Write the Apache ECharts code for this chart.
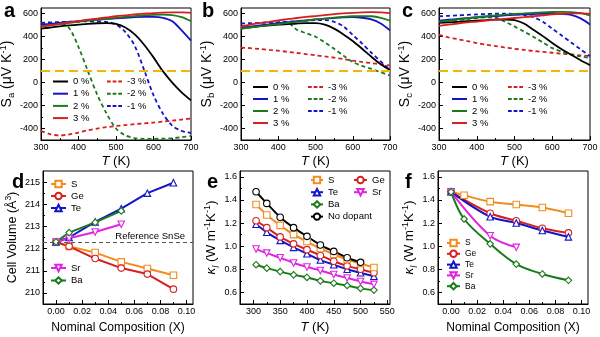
<!DOCTYPE html>
<html><head><meta charset="utf-8">
<script src="https://cdn.jsdelivr.net/npm/echarts@6/dist/echarts.min.js"></script>
<style>html,body{margin:0;padding:0;background:#fff}#c{width:600px;height:337px}</style>
</head><body><div id="c"></div>
<script>
// ---------- data ----------
const T_TOP = [300,325,350,375,400,425,450,475,500,525,550,575,600,625,650,675,700];
// panel a : S_a
const SA_P0 = [470,480,490,498,505,512,517,519,512,480,420,330,220,100,0,-85,-155];
const SA_P1 = [505,512,520,528,535,542,548,555,560,565,570,572,572,565,535,455,365];
const SA_P2 = [490,500,510,520,530,540,548,556,564,572,580,586,590,592,588,570,535];
const SA_P3 = [488,500,512,524,536,548,558,568,578,586,594,600,606,610,612,612,608];
const SA_M3 = [-420,-450,-460,-452,-435,-415,-400,-388,-378,-370,-362,-355,-348,-340,-332,-322,-312];
const SA_M2 = [510,518,520,475,310,100,-105,-270,-400,-460,-483,-490,-490,-488,-484,-476,-465];
const SA_M1 = [520,525,528,530,532,533,533,530,505,440,320,110,-110,-270,-375,-420,-440];
// panel b : S_b
const SB_P0 = [478,485,492,498,505,510,515,518,518,505,470,420,362,295,225,160,110];
const SB_P1 = [478,488,498,508,518,526,535,542,550,557,563,568,570,565,550,515,455];
const SB_P2 = [470,480,490,500,510,520,530,540,550,558,566,573,578,580,578,565,540];
const SB_P3 = [490,505,518,530,542,553,563,572,580,588,596,603,608,612,614,612,605];
const SB_M3 = [305,300,293,285,278,268,258,248,238,228,218,205,192,180,170,160,150];
const SB_M2 = [470,482,494,505,515,520,460,430,400,350,295,235,180,145,120,90,62];
const SB_M1 = [515,518,520,523,526,530,535,540,545,545,530,490,415,340,260,185,110];
// panel c : S_c
const SC_P0 = [520,525,530,535,540,545,548,550,545,515,460,405,345,290,243,195,152];
const SC_P1 = [540,548,555,562,568,574,580,585,590,594,597,600,600,598,590,560,505];
const SC_P2 = [530,540,550,560,570,578,585,592,598,603,608,612,615,616,614,605,585];
const SC_P3 = [495,505,515,525,532,540,548,555,563,570,578,586,594,600,604,604,600];
const SC_M3 = [415,395,378,362,345,330,318,305,295,285,275,268,260,252,245,238,232];
const SC_M2 = [530,538,546,554,562,568,565,530,490,445,400,350,300,270,245,228,215];
const SC_M1 = [578,582,586,590,594,597,600,600,598,590,570,530,470,410,350,290,230];
const S_THRESHOLD = 100;
// panel d : cell volume
const D_X = [0,0.01,0.03,0.05,0.07,0.09];
const D_S  = [212.3,212.1,211.82,211.4,211.1,210.8];
const D_GE = [212.3,212.1,211.55,211.12,210.85,210.17];
const D_TE = [212.3,212.5,213.2,213.8,214.5,214.97];
const D_X2 = [0,0.01,0.03,0.05];
const D_SR = [212.3,212.47,212.75,213.1];
const D_BA = [212.3,212.72,213.18,213.7];
const REF_SNSE = 212.3;
// panel e : kappa_l vs T
const E_T  = [305,325,350,375,400,425,450,475,500,525];
const E_TND = [305,325,350,375,400,425,450,475,500];
const E_S  = [1.36,1.27,1.18,1.10,1.04,0.98,0.93,0.885,0.85,0.815];
const E_GE = [1.22,1.16,1.08,1.02,0.97,0.92,0.87,0.83,0.80,0.77];
const E_TE = [1.19,1.12,1.05,0.99,0.935,0.88,0.84,0.80,0.77,0.74];
const E_SR = [0.975,0.94,0.90,0.855,0.82,0.79,0.755,0.725,0.695,0.67];
const E_BA = [0.84,0.81,0.78,0.752,0.73,0.70,0.68,0.66,0.635,0.62];
const E_ND = [1.47,1.37,1.25,1.16,1.085,1.01,0.955,0.90,0.86];
// panel f : kappa_l vs X
const F_X  = [0,0.01,0.03,0.05,0.07,0.09];
const F_X3 = [0,0.03,0.05,0.07,0.09];
const F_XSR = [0,0.03,0.05];
const F_S  = [1.47,1.44,1.385,1.36,1.335,1.285];
const F_GE = [1.47,1.285,1.22,1.155,1.115];
const F_TE = [1.47,1.255,1.20,1.135,1.08];
const F_SR = [1.47,1.09,0.99];
const F_BA = [1.47,1.235,1.02,0.845,0.76,0.705];
// tick labels
const TICK_T = [300,400,500,600,700];
const MINOR_T = [350,450,550,650];
const TICK_S = [-400,-200,0,200,400,600];
const MINOR_S = [-300,-100,100,300,500];
const TICK_X = [0,0.02,0.04,0.06,0.08,0.10];
const MINOR_X = [0.01,0.03,0.05,0.07,0.09];
const TICK_V = [210,211,212,213,214,215];
const MINOR_V = [209.5,210.5,211.5,212.5,213.5,214.5];
const TICK_TE = [300,350,400,450,500,550];
const MINOR_TE = [325,375,425,475,525];
const TICK_K = [0.6,0.8,1.0,1.2,1.4,1.6];
const MINOR_K = [0.7,0.9,1.1,1.3,1.5];

// ---------- style ----------
const FONT = '"Liberation Sans", Arial, Helvetica, sans-serif';
const COL = {black:'#000000', blue:'#1414c8', green:'#1b7a1b', red:'#d91e1e', orange:'#f28c1c', magenta:'#e024e0', yellow:'#f2b705', gray:'#555555'};
const GRIDS = [
  {left:41, top:8, width:150, height:132},
  {left:241, top:8, width:149, height:132},
  {left:439, top:8, width:151, height:132},
  {left:43, top:171, width:150, height:133},
  {left:240, top:171, width:150, height:133},
  {left:438, top:171, width:150, height:133}
];
function mkRich(fs, sfs) {
  return {
    n:   {fontFamily:FONT, fontSize:fs, lineHeight:18, color:'#000'},
    i:   {fontFamily:FONT, fontSize:fs, lineHeight:18, color:'#000', fontStyle:'italic'},
    sub: {fontFamily:FONT, fontSize:sfs, lineHeight:sfs, color:'#000', verticalAlign:'bottom'},
    isub:{fontFamily:FONT, fontSize:sfs, lineHeight:sfs, color:'#000', verticalAlign:'bottom', fontStyle:'italic'},
    sup: {fontFamily:FONT, fontSize:sfs, lineHeight:sfs, color:'#000', verticalAlign:'top'}
  };
}
const NS_X = {fontFamily:FONT, fontSize:13, color:'#000', rich:mkRich(13, 9)};
const NS_XB = {fontFamily:FONT, fontSize:12, color:'#000', rich:mkRich(12, 8)};
const NS_S = {fontFamily:FONT, fontSize:14, color:'#000', rich:mkRich(14, 9.5)};
const NS_V = {fontFamily:FONT, fontSize:12.5, color:'#000', rich:mkRich(12.5, 8.5)};
const NS_K = {fontFamily:FONT, fontSize:13.5, color:'#000', rich:mkRich(13.5, 9)};

function mainAxis(dim, i, min, max, ticks, fmt, name, gap, ns) {
  return {
    gridIndex:i, type:'value', min:min, max:max,
    position: dim === 'x' ? 'bottom' : 'left',
    axisLine:{show:true, onZero:false, lineStyle:{color:'#000', width:1}},
    axisTick:{show:true, inside:true, length:4, customValues:ticks, lineStyle:{color:'#000', width:1}},
    axisLabel:{show:true, customValues:ticks, formatter:fmt, fontSize:9, color:'#000', fontFamily:FONT, margin:3},
    splitLine:{show:false},
    name:name, nameLocation:'middle', nameGap:gap, nameTextStyle:ns
  };
}
function minorAxis(dim, i, min, max, ticks) {
  return {
    gridIndex:i, type:'value', min:min, max:max,
    position: dim === 'x' ? 'bottom' : 'left',
    axisLine:{show:false, onZero:false},
    axisTick:{show:true, inside:true, length:2, customValues:ticks, lineStyle:{color:'#000', width:1}},
    axisLabel:{show:false},
    splitLine:{show:false}
  };
}
const f0 = v => String(v);
const f1 = v => v.toFixed(1);
const f2 = v => v.toFixed(2);
const TNAME = '{i|T}{n| (K)}';
const KNAME = '{i|κ}{isub|l}{n| (W m}{sup|-1}{n|K}{sup|-1}{n|)}';
const XNAME = '{n|Nominal Composition (X)}';

const xAxes = [
  mainAxis('x',0,300,700,TICK_T,f0,TNAME,12,NS_X),
  mainAxis('x',1,300,700,TICK_T,f0,TNAME,12,NS_X),
  mainAxis('x',2,300,700,TICK_T,f0,TNAME,12,NS_X),
  mainAxis('x',3,-0.01,0.105,TICK_X,f2,XNAME,15,NS_XB),
  mainAxis('x',4,275,555,TICK_TE,f0,TNAME,14,NS_X),
  mainAxis('x',5,-0.01,0.105,TICK_X,f2,XNAME,15,NS_XB),
  minorAxis('x',0,300,700,MINOR_T),
  minorAxis('x',1,300,700,MINOR_T),
  minorAxis('x',2,300,700,MINOR_T),
  minorAxis('x',3,-0.01,0.105,MINOR_X),
  minorAxis('x',4,275,555,MINOR_TE),
  minorAxis('x',5,-0.01,0.105,MINOR_X)
];
const yAxes = [
  mainAxis('y',0,-500,650,TICK_S,f0,'{n|S}{sub|a}{n| (μV K}{sup|-1}{n|)}',19,NS_S),
  mainAxis('y',1,-500,650,TICK_S,f0,'{n|S}{sub|b}{n| (μV K}{sup|-1}{n|)}',19,NS_S),
  mainAxis('y',2,-500,650,TICK_S,f0,'{n|S}{sub|c}{n| (μV K}{sup|-1}{n|)}',19,NS_S),
  mainAxis('y',3,209.5,215.5,TICK_V,f0,'{n|Cell Volume (Å}{sup|3}{n|)}',21,NS_V),
  mainAxis('y',4,0.5,1.65,TICK_K,f1,KNAME,18,NS_K),
  mainAxis('y',5,0.5,1.65,TICK_K,f1,KNAME,16,NS_K),
  minorAxis('y',0,-500,650,MINOR_S),
  minorAxis('y',1,-500,650,MINOR_S),
  minorAxis('y',2,-500,650,MINOR_S),
  minorAxis('y',3,209.5,215.5,MINOR_V),
  minorAxis('y',4,0.5,1.65,MINOR_K),
  minorAxis('y',5,0.5,1.65,MINOR_K)
];

function pairs(xs, ys) { return xs.map((x, k) => [x, ys[k]]); }
function sLine(g, name, ys, color, dashed, extra) {
  const s = {
    type:'line', name:name, xAxisIndex:g, yAxisIndex:g,
    data:pairs(T_TOP, ys), symbol:'none', showSymbol:false, smooth:0.3,
    lineStyle:{color:color, width:1.8, type: dashed ? [4,3] : 'solid'},
    itemStyle:{color:color}, emphasis:{disabled:true}, z: dashed ? 2 : 3
  };
  return Object.assign(s, extra || {});
}
function mLine(g, name, xs, ys, color, symbol, rot, smooth) {
  return {
    type:'line', name:name, xAxisIndex:g, yAxisIndex:g,
    data:pairs(xs, ys), symbol:symbol, symbolSize:6.5, symbolRotate:rot || 0,
    showSymbol:true, smooth:smooth,
    lineStyle:{color:color, width:2},
    itemStyle:{color:'#ffffff', borderColor:color, borderWidth:1.1},
    emphasis:{disabled:true}
  };
}
const yellowLine = {
  silent:true, symbol:['none','none'], label:{show:false}, animation:false,
  lineStyle:{color:COL.yellow, type:[9,5], width:1.8},
  data:[{yAxis:S_THRESHOLD}]
};

const series = [];
const topSets = [
  [SA_P0,SA_P1,SA_P2,SA_P3,SA_M3,SA_M2,SA_M1],
  [SB_P0,SB_P1,SB_P2,SB_P3,SB_M3,SB_M2,SB_M1],
  [SC_P0,SC_P1,SC_P2,SC_P3,SC_M3,SC_M2,SC_M1]
];
topSets.forEach((d, g) => {
  series.push(sLine(g,'-3 %',d[4],COL.red,true,{markLine:yellowLine}));
  series.push(sLine(g,'-2 %',d[5],COL.green,true));
  series.push(sLine(g,'-1 %',d[6],COL.blue,true));
  series.push(sLine(g,'0 %',d[0],COL.black,false));
  series.push(sLine(g,'1 %',d[1],COL.blue,false));
  series.push(sLine(g,'2 %',d[2],COL.green,false));
  series.push(sLine(g,'3 %',d[3],COL.red,false));
});
// panel d
series.push(Object.assign(mLine(3,'S',D_X,D_S,COL.orange,'rect',0,false), {
  markLine:{silent:true, symbol:['none','none'], animation:false,
    lineStyle:{color:COL.gray, type:[4,3], width:1.2},
    label:{show:true, position:'insideEndTop', formatter:'Reference SnSe', fontSize:9.5, color:'#000', fontFamily:FONT, distance:[8,1]},
    data:[{yAxis:REF_SNSE}]}
}));
series.push(mLine(3,'Ge',D_X,D_GE,COL.red,'circle',0,false));
series.push(mLine(3,'Te',D_X,D_TE,COL.blue,'triangle',0,false));
series.push(mLine(3,'Sr',D_X2,D_SR,COL.magenta,'triangle',180,false));
series.push(mLine(3,'Ba',D_X2,D_BA,COL.green,'diamond',0,false));
// panel e
series.push(mLine(4,'Ba',E_T,E_BA,COL.green,'diamond',0,0.2));
series.push(mLine(4,'Sr',E_T,E_SR,COL.magenta,'triangle',180,0.2));
series.push(mLine(4,'Te',E_T,E_TE,COL.blue,'triangle',0,0.2));
series.push(mLine(4,'Ge',E_T,E_GE,COL.red,'circle',0,0.2));
series.push(mLine(4,'S',E_T,E_S,COL.orange,'rect',0,0.2));
series.push(mLine(4,'No dopant',E_TND,E_ND,COL.black,'circle',0,0.2));
// panel f
series.push(mLine(5,'S',F_X,F_S,COL.orange,'rect',0,0.35));
series.push(mLine(5,'Ge',F_X3,F_GE,COL.red,'circle',0,0.35));
series.push(mLine(5,'Te',F_X3,F_TE,COL.blue,'triangle',0,0.35));
series.push(mLine(5,'Sr',F_XSR,F_SR,COL.magenta,'triangle',180,0.35));
series.push(mLine(5,'Ba',F_X,F_BA,COL.green,'diamond',0,0.35));

const SOLID_ICON = 'rect';
const DASH_ICON = 'path://M0,0h4v2h-4zM6,0h4v2h-4zM12,0h4v2h-4z';
function lineLegend(names, icon, left, top, gap) {
  return {
    data:names.map(n => ({name:n, icon:icon})), orient:'vertical', left:left, top:top, padding:0,
    itemWidth:15, itemHeight:2, itemGap:gap, selectedMode:false, symbolKeepAspect:false,
    textStyle:{fontSize:9.5, lineHeight:10, color:'#000', fontFamily:FONT}
  };
}
function legend(names, left, top, gap, fs, w) {
  return {
    data:names, orient:'vertical', left:left, top:top, padding:0,
    itemWidth:w || 15, itemHeight:8, itemGap:gap, selectedMode:false,
    textStyle:{fontSize:fs || 9.5, lineHeight:10, color:'#000', fontFamily:FONT}
  };
}
const legends = [
  lineLegend(['0 %','1 %','2 %','3 %'],SOLID_ICON,53,76.5,2.2),
  lineLegend(['-3 %','-2 %','-1 %'],DASH_ICON,107,76.5,2.2),
  lineLegend(['0 %','1 %','2 %','3 %'],SOLID_ICON,253,82,2),
  lineLegend(['-3 %','-2 %','-1 %'],DASH_ICON,308,82,2),
  lineLegend(['0 %','1 %','2 %','3 %'],SOLID_ICON,452,82,2),
  lineLegend(['-3 %','-2 %','-1 %'],DASH_ICON,508,82,2),
  legend(['S','Ge','Te'],50,179,2),
  legend(['Sr','Ba'],50,263,2.5),
  legend(['S','Te','Ba','No dopant'],310,175,2.2,9.5,12),
  legend(['Ge','Sr'],353,175,2.2,9.5,13),
  legend(['S','Ge','Te','Sr','Ba'],446,238,0.8,8.5,13)
];
function letter(t, x, y) {
  return {type:'text', x:x, y:y, silent:true,
    style:{text:t, font:'bold 20px ' + FONT, fill:'#000', verticalAlign:'middle', align:'left'}};
}

const chart = echarts.init(document.getElementById('c'), null, {renderer:'canvas'});
chart.setOption({
  animation:false,
  backgroundColor:'#ffffff',
  textStyle:{fontFamily:FONT},
  grid: GRIDS.map(g => Object.assign({show:true, borderColor:'#000', borderWidth:1, containLabel:false, outerBoundsMode:'none'}, g)),
  xAxis: xAxes,
  yAxis: yAxes,
  legend: legends,
  series: series,
  graphic: [letter('a',4,11), letter('b',202,11), letter('c',402,11), letter('d',12,182), letter('e',207,182), letter('f',405,182)]
});
</script>
</body></html>
